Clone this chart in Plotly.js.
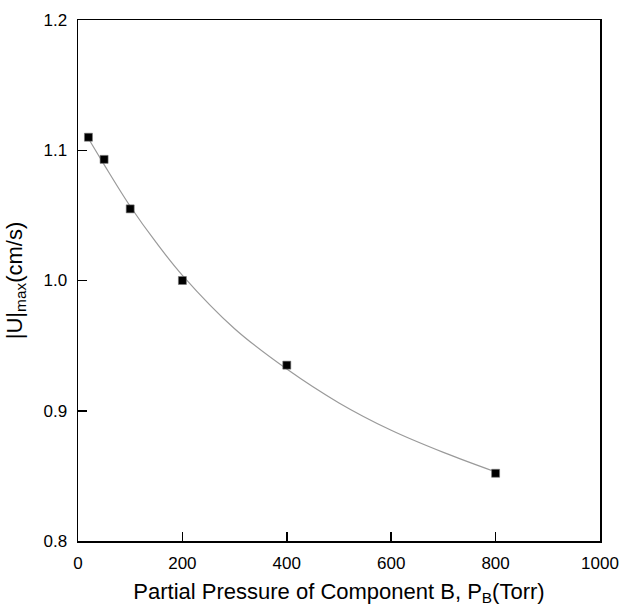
<!DOCTYPE html>
<html>
<head>
<meta charset="utf-8">
<script src="https://cdn.plot.ly/plotly-3.0.1.min.js"></script>
<style>html,body{margin:0;padding:0;background:#fff;}</style>
</head>
<body>
<div id="chart" style="width:621px;height:607px;"></div>
<script>
// Measured data points
var pressure = [20, 50, 100, 200, 400, 800];
var umax = [1.110, 1.093, 1.055, 1.000, 0.935, 0.852];

// Fitted curve
var fitX = [20, 50, 100, 150, 200, 300, 400, 500, 600, 700, 800];
var fitY = [1.109, 1.089, 1.057, 1.029, 1.004, 0.963, 0.932, 0.906, 0.885, 0.868, 0.853];

var xTicks = [0, 200, 400, 600, 800, 1000];
var yTicks = [0.8, 0.9, 1.0, 1.1, 1.2];

var font = "Liberation Sans, Arial, sans-serif";

var traces = [
  {
    x: fitX, y: fitY, type: 'scatter', mode: 'lines',
    line: {color: '#9a9a9a', width: 1.2, shape: 'spline'},
    hoverinfo: 'skip', showlegend: false
  },
  {
    x: pressure, y: umax, type: 'scatter', mode: 'markers',
    marker: {symbol: 'square', size: 8, color: '#000', line: {color: '#777', width: 0.6}},
    showlegend: false
  }
];

var axisCommon = {
  showgrid: false, zeroline: false,
  showline: true, linecolor: '#000', linewidth: 1.5, mirror: true,
  ticks: 'inside', ticklen: 9, tickwidth: 1.5, tickcolor: '#000',
  tickfont: {family: font, size: 17, color: '#000'}
};

var layout = {
  width: 621, height: 607,
  margin: {l: 78, r: 21, t: 20, b: 66},
  paper_bgcolor: '#fff', plot_bgcolor: '#fff',
  xaxis: Object.assign({}, axisCommon, {
    range: [0, 1000], tickvals: xTicks, ticktext: xTicks.map(String),
    ticklabelstandoff: 6,
    title: {text: 'Partial Pressure of Component B, P<sub>B</sub>(Torr)', font: {family: font, size: 22, color: '#000'}, standoff: 11}
  }),
  yaxis: Object.assign({}, axisCommon, {
    range: [0.8, 1.2], tickvals: yTicks, ticktext: yTicks.map(function(v){return v.toFixed(1);}),
    ticklabelstandoff: 6,
    title: {text: '|U|<sub>max</sub>(cm/s)', font: {family: font, size: 22, color: '#000'}, standoff: 15}
  })
};

Plotly.newPlot('chart', traces, layout, {displayModeBar: false, staticPlot: true});
</script>
</body>
</html>
